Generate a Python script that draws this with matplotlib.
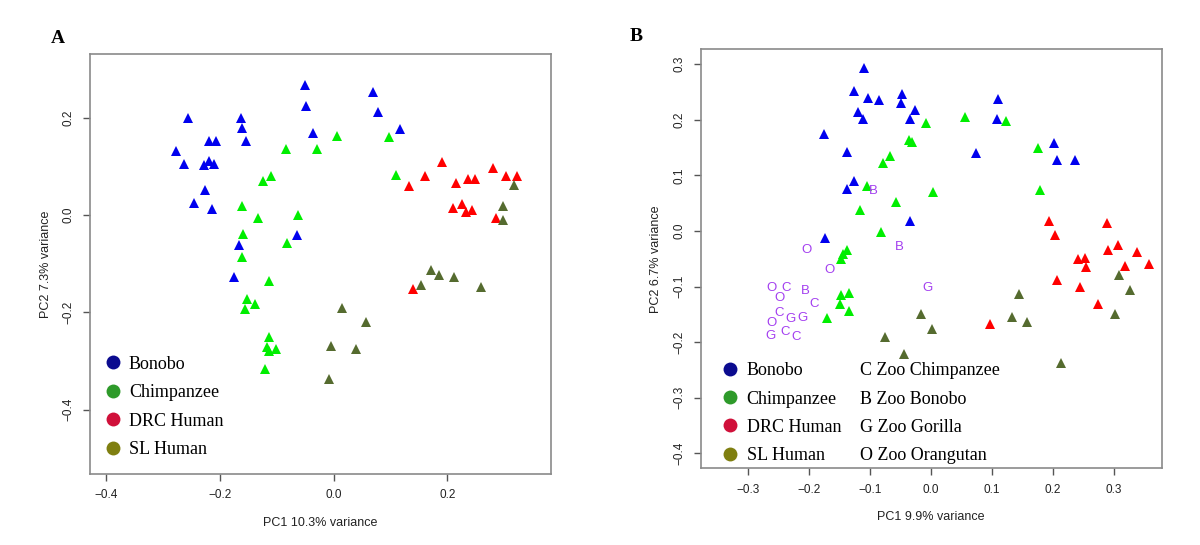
import matplotlib
matplotlib.use("Agg")
import matplotlib.pyplot as plt
from matplotlib.lines import Line2D

plt.rcParams['font.family'] = ['Liberation Sans', 'DejaVu Sans']

# ---- Panel A: PCA of wild samples (PC1 10.3%, PC2 7.3%) ----
a_bonobo_x = [-0.256, -0.277, -0.264, -0.220, -0.208, -0.220, -0.229, -0.211, -0.227, -0.246,
              -0.215, -0.164, -0.161, -0.155, -0.051, -0.048, -0.036, -0.167, -0.064, -0.175,
              0.069, 0.077, 0.116]
a_bonobo_y = [0.199, 0.132, 0.105, 0.153, 0.153, 0.112, 0.102, 0.105, 0.051, 0.025,
              0.013, 0.199, 0.179, 0.153, 0.268, 0.225, 0.168, -0.061, -0.040, -0.127,
              0.252, 0.212, 0.177]
a_chimp_x = [0.006, -0.084, -0.029, -0.124, -0.111, -0.162, -0.134, -0.063, -0.160, -0.083,
             -0.161, -0.114, -0.152, -0.138, -0.156, -0.114, -0.118, -0.114, -0.102, -0.121,
             0.097, 0.110]
a_chimp_y = [0.162, 0.135, 0.135, 0.070, 0.080, 0.019, -0.006, 0.001, -0.038, -0.058,
             -0.086, -0.136, -0.173, -0.182, -0.194, -0.250, -0.271, -0.279, -0.275, -0.317,
             0.160, 0.083]
a_drc_x = [0.190, 0.161, 0.133, 0.215, 0.236, 0.249, 0.281, 0.304, 0.322, 0.209,
           0.226, 0.233, 0.244, 0.285, 0.140]
a_drc_y = [0.109, 0.080, 0.059, 0.065, 0.075, 0.075, 0.097, 0.080, 0.080, 0.015,
           0.023, 0.007, 0.011, -0.005, -0.152]
a_sl_x = [0.317, 0.297, 0.297, 0.172, 0.186, 0.212, 0.154, 0.260, 0.014, 0.056,
          -0.005, 0.040, -0.008]
a_sl_y = [0.061, 0.018, -0.010, -0.112, -0.123, -0.128, -0.144, -0.147, -0.191, -0.220,
          -0.268, -0.275, -0.337]

# ---- Panel B: PCA incl. zoo samples (PC1 9.9%, PC2 6.7%) ----
b_bonobo_x = [-0.110, -0.127, -0.103, -0.085, -0.048, -0.049, -0.119, -0.112, -0.027, -0.035,
              -0.176, -0.138, -0.127, -0.138, -0.035, -0.174, 0.110, 0.108, 0.074, 0.202,
              0.206, 0.236]
b_bonobo_y = [0.293, 0.251, 0.239, 0.236, 0.246, 0.230, 0.214, 0.201, 0.217, 0.202,
              0.175, 0.142, 0.090, 0.075, 0.018, -0.013, 0.237, 0.201, 0.140, 0.159,
              0.128, 0.128]
b_chimp_x = [-0.008, -0.036, -0.031, -0.068, -0.078, -0.105, 0.004, -0.057, -0.116, -0.082,
             -0.137, -0.144, -0.148, -0.135, -0.147, -0.150, -0.134, -0.171, 0.056, 0.123,
             0.176, 0.178]
b_chimp_y = [0.194, 0.164, 0.160, 0.135, 0.123, 0.081, 0.070, 0.053, 0.038, -0.002,
             -0.034, -0.041, -0.050, -0.111, -0.115, -0.132, -0.144, -0.157, 0.205, 0.198,
             0.149, 0.073]
b_drc_x = [0.193, 0.203, 0.288, 0.307, 0.290, 0.338, 0.241, 0.253, 0.254, 0.318,
           0.358, 0.207, 0.245, 0.274, 0.096]
b_drc_y = [0.018, -0.008, 0.015, -0.026, -0.035, -0.038, -0.051, -0.049, -0.065, -0.063,
           -0.059, -0.089, -0.100, -0.132, -0.168]
b_sl_x = [0.308, 0.327, 0.302, 0.145, 0.133, 0.158, -0.016, 0.002, 0.213, -0.045, -0.075]
b_sl_y = [-0.080, -0.106, -0.149, -0.113, -0.155, -0.164, -0.150, -0.176, -0.237, -0.222, -0.191]

zoo_labels = ['B', 'B', 'O', 'O', 'O', 'C', 'O', 'B', 'C', 'C', 'G', 'G', 'O', 'C', 'C', 'G', 'G']
zoo_x = [-0.095, -0.052, -0.205, -0.166, -0.262, -0.238, -0.248, -0.206, -0.191, -0.249,
         -0.231, -0.211, -0.262, -0.240, -0.222, -0.263, -0.006]
zoo_y = [0.072, -0.029, -0.035, -0.070, -0.102, -0.102, -0.120, -0.108, -0.131, -0.148,
         -0.159, -0.156, -0.166, -0.182, -0.191, -0.189, -0.102]

group_names = ['Bonobo', 'Chimpanzee', 'DRC Human', 'SL Human']
point_colors = ['#0000ee', '#00ee00', '#ff0000', '#556b2f']
legend_colors = ['#0b0b8f', '#2e9a2a', '#d0103a', '#7f7f10']
zoo_names = ['C Zoo Chimpanzee', 'B Zoo Bonobo', 'G Zoo Gorilla', 'O Zoo Orangutan']
zoo_color = '#a33ef0'

fig = plt.figure(figsize=(12, 5.45), dpi=100)
ax_a = fig.add_axes([0.075, 0.1303, 0.384, 0.7706])
ax_b = fig.add_axes([0.584, 0.1407, 0.384, 0.769])


def draw_groups(ax, xs, ys):
    for x, y, c in zip(xs, ys, point_colors):
        ax.plot(x, y, linestyle='none', marker='^', markersize=7.5,
                color=c, markeredgewidth=0)


def style_axes(ax, xlabel, ylabel):
    for sp in ax.spines.values():
        sp.set_color('#8a8a8a')
        sp.set_linewidth(1.2)
    ax.tick_params(direction='out', length=5, width=1, color='#555555',
                   labelsize=8.5, pad=6, labelcolor='#222222')
    for lab in ax.get_yticklabels():
        lab.set_rotation(90)
        lab.set_va('center')
    ax.set_xlabel(xlabel, fontsize=9, color='#222222', labelpad=11)
    ax.set_ylabel(ylabel, fontsize=9, color='#222222', labelpad=8)


def group_legend(ax, anchor, spacing):
    handles = [Line2D([], [], linestyle='none', marker='o', markersize=10,
                      color=c, markeredgewidth=0) for c in legend_colors]
    return ax.legend(handles, group_names, loc='upper left', bbox_to_anchor=anchor,
                     frameon=False, prop={'family': 'Liberation Serif', 'size': 13},
                     handletextpad=0.3, labelspacing=spacing, borderaxespad=0,
                     handlelength=1.2)


# Panel A
draw_groups(ax_a, [a_bonobo_x, a_chimp_x, a_drc_x, a_sl_x],
            [a_bonobo_y, a_chimp_y, a_drc_y, a_sl_y])
ax_a.set_xlim(-0.429, 0.382)
ax_a.set_ylim(-0.532, 0.331)
ax_a.set_xticks([-0.4, -0.2, 0.0, 0.2])
ax_a.set_yticks([-0.4, -0.2, 0.0, 0.2])
style_axes(ax_a, 'PC1 10.3% variance', 'PC2 7.3% variance')
group_legend(ax_a, (0.01, 0.299), 0.64)

# Panel B
draw_groups(ax_b, [b_bonobo_x, b_chimp_x, b_drc_x, b_sl_x],
            [b_bonobo_y, b_chimp_y, b_drc_y, b_sl_y])
for lab, x, y in zip(zoo_labels, zoo_x, zoo_y):
    ax_b.text(x, y, lab, color=zoo_color, fontsize=9.5, ha='center', va='center')
ax_b.set_xlim(-0.3775, 0.378)
ax_b.set_ylim(-0.427, 0.327)
ax_b.set_xticks([-0.3, -0.2, -0.1, 0.0, 0.1, 0.2, 0.3])
ax_b.set_yticks([-0.4, -0.3, -0.2, -0.1, 0.0, 0.1, 0.2, 0.3])
style_axes(ax_b, 'PC1 9.9% variance', 'PC2 6.7% variance')
leg1 = group_legend(ax_b, (0.025, 0.27), 0.62)
ax_b.add_artist(leg1)
blank = [Line2D([], [], linestyle='none') for _ in zoo_names]
ax_b.legend(blank, zoo_names, loc='upper left', bbox_to_anchor=(0.33, 0.27),
            frameon=False, prop={'family': 'Liberation Serif', 'size': 13},
            handlelength=0, handletextpad=0, labelspacing=0.62, borderaxespad=0)

fig.text(0.048, 0.93, 'A', fontsize=14, fontweight='bold', family='Liberation Serif',
         ha='center', va='center')
fig.text(0.530, 0.933, 'B', fontsize=14, fontweight='bold', family='Liberation Serif',
         ha='center', va='center')

fig.savefig('out.png', dpi=100)
